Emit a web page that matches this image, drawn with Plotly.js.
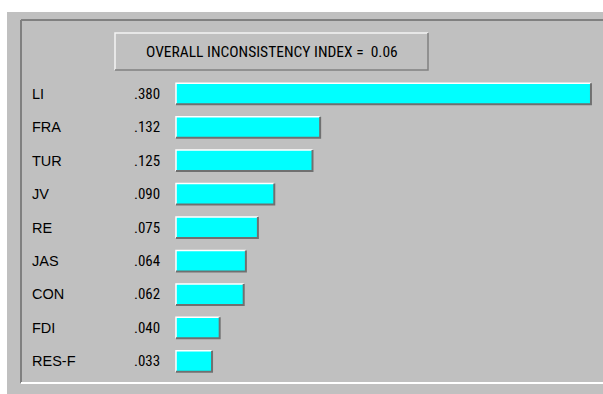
<!DOCTYPE html>
<html>
<head>
<meta charset="utf-8">
<script src="https://cdn.plot.ly/plotly-3.0.1.min.js"></script>
<style>html,body{margin:0;padding:0;background:#fff;overflow:hidden;}#chart{width:603px;height:394px;}</style>
</head>
<body>
<div id="chart"></div>
<script>
const categories = ['LI', 'FRA', 'TUR', 'JV', 'RE', 'JAS', 'CON', 'FDI', 'RES-F'];
const values = [0.380, 0.132, 0.125, 0.090, 0.075, 0.064, 0.062, 0.040, 0.033];
const valueLabels = ['.380', '.132', '.125', '.090', '.075', '.064', '.062', '.040', '.033'];
const headerText = 'OVERALL INCONSISTENCY INDEX =\u00a0 0.06';

const W = 603, H = 394, T = 77, B = 16;
const plotH = H - T - B;
const xp = px => px / W;
const yp = py => (H - B - py) / plotH;
const PXU = 1092; // pixels per unit of value
const xMin = -176 / PXU, xMax = (W - 176) / PXU;
const half = 0.314;
const gray = '#c0c0c0', dark = '#808080';
const condensed = 'Roboto Condensed, DejaVu Sans Condensed, sans-serif';
const regular = 'Liberation Sans, Arial, sans-serif';

const shapes = [];
// background panel
shapes.push({type:'rect', xref:'paper', yref:'paper', x0:xp(7), x1:1.02, y0:yp(398), y1:yp(12), fillcolor:gray, line:{width:0}, layer:'below'});
shapes.push({type:'line', xref:'paper', yref:'paper', x0:xp(21), x1:1.02, y0:yp(20), y1:yp(20), line:{color:dark, width:2}, layer:'below'});
shapes.push({type:'line', xref:'paper', yref:'paper', x0:xp(21), x1:xp(21), y0:yp(20), y1:yp(383), line:{color:dark, width:2}, layer:'below'});
shapes.push({type:'line', xref:'paper', yref:'paper', x0:xp(21), x1:1.02, y0:yp(383), y1:yp(383), line:{color:'#ffffff', width:2}, layer:'below'});
// header box
shapes.push({type:'path', xref:'paper', yref:'paper', path:`M ${xp(115)},${yp(70)} L ${xp(115)},${yp(33)} L ${xp(428)},${yp(33)}`, line:{color:'#f4f4f4', width:1.5}, layer:'below'});
shapes.push({type:'path', xref:'paper', yref:'paper', path:`M ${xp(428)},${yp(33)} L ${xp(428)},${yp(70)} L ${xp(115)},${yp(70)}`, line:{color:dark, width:1.5}, layer:'below'});
// 3D bar edges derived from the data
values.forEach((v, i) => {
  shapes.push({type:'path', xref:'x', yref:'y', path:`M 0,${i+half} L 0,${i-half} L ${v},${i-half}`, line:{color:'#ffffff', width:1.5}, layer:'above'});
  shapes.push({type:'path', xref:'x', yref:'y', path:`M ${v},${i-half} L ${v},${i+half} L 0,${i+half}`, line:{color:'#707070', width:2}, layer:'above'});
});

const annotations = [];
categories.forEach((c, i) => {
  annotations.push({xref:'x', yref:'y', x:(30-176)/PXU, y:i, text:c, showarrow:false, xanchor:'left', yanchor:'middle',
    font:{family:regular, size:14.5, color:'#000'}});
  annotations.push({xref:'x', yref:'y', x:(132-176)/PXU, y:i, text:valueLabels[i], showarrow:false, xanchor:'left', yanchor:'middle',
    font:{family:condensed, size:15, color:'#000'}});
});
annotations.push({xref:'paper', yref:'paper', x:xp(272), y:yp(52), text:headerText, showarrow:false, xanchor:'center', yanchor:'middle',
  font:{family:condensed, size:15.5, color:'#000'}});

const trace = {
  type:'bar', orientation:'h', x:values, y:categories, width:2*half,
  marker:{color:'#00ffff', line:{width:0}}, hoverinfo:'skip'
};

const layout = {
  width:W, height:H,
  margin:{l:0, r:0, t:T, b:B, pad:0},
  paper_bgcolor:'#ffffff', plot_bgcolor:'rgba(0,0,0,0)',
  showlegend:false,
  xaxis:{range:[xMin, xMax], showgrid:false, zeroline:false, showticklabels:false, ticks:'', showline:false, fixedrange:true},
  yaxis:{type:'category', range:[categories.length-0.5, -0.5], showgrid:false, zeroline:false, showticklabels:false, ticks:'', showline:false, fixedrange:true},
  shapes:shapes, annotations:annotations
};

Plotly.newPlot('chart', [trace], layout, {displayModeBar:false, staticPlot:true});
</script>
</body>
</html>
